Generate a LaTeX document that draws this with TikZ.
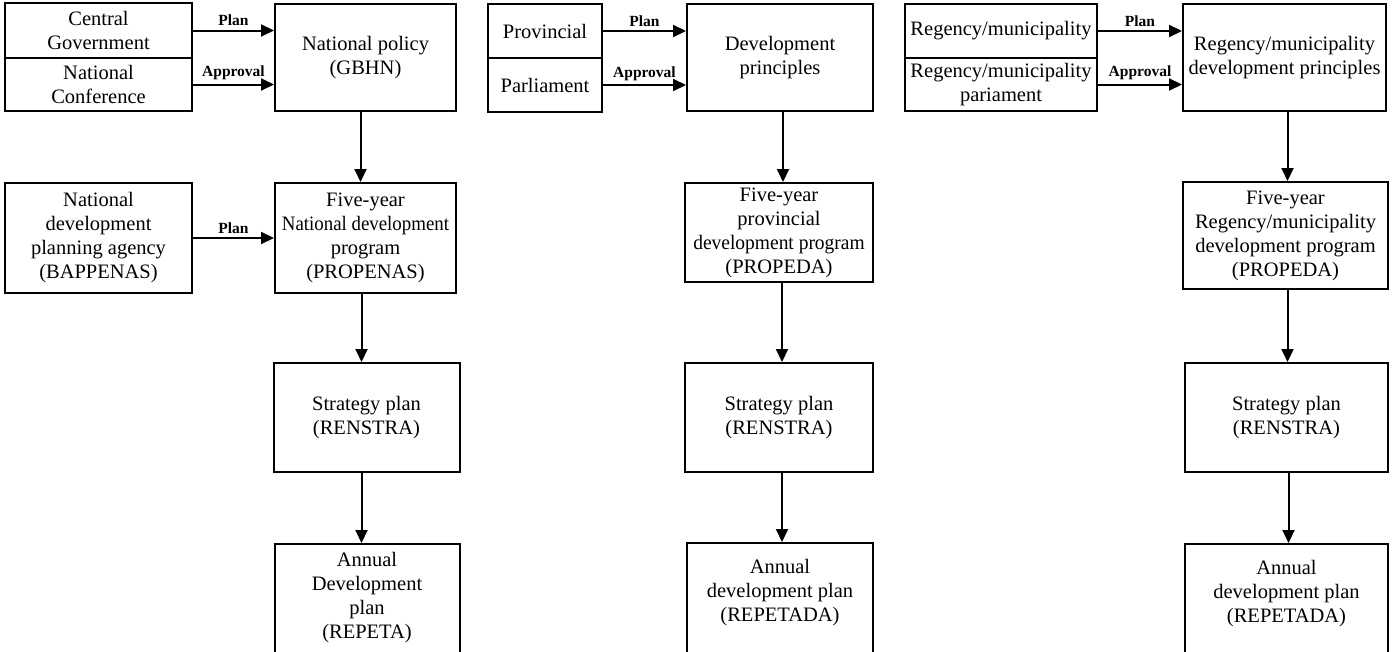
\documentclass[tikz,border=0pt]{standalone}
\usepackage{fontspec}
\usepackage{graphicx}
\setmainfont{Liberation Serif}
\usetikzlibrary{arrows.meta,calc}
\newcommand{\cnd}[2]{\scalebox{#1}[1]{#2}}
\begin{document}
\begin{tikzpicture}[x=1pt,y=-1pt,
  box/.style={draw, line width=2pt, inner sep=0pt, align=center,
    font=\fontsize{20.5}{24}\selectfont},
  txt/.style={inner sep=0pt, align=center, font=\fontsize{20.5}{24}\selectfont},
  lbl/.style={font=\fontsize{15.5}{18}\selectfont\bfseries, inner sep=3.5pt},
  arr/.style={line width=2pt, -{Triangle[length=13pt,width=12pt]}}]
\useasboundingbox (0,0) rectangle (1399,651);
\clip (0,0) rectangle (1399,651);
% ---------- Panel 1 ----------
\node[box, minimum width=187, minimum height=55] (cg) at (98.5,30.5) {Central\\Government};
\node[box, minimum width=187, minimum height=53] (nc) at (98.5,84.5) {National\\Conference};
\node[box, minimum width=181, minimum height=107] (np) at (365.5,57.5) {National policy\\(GBHN)};
\node[box, minimum width=187, minimum height=110] (bap) at (98.5,238) {National\\development\\planning agency\\(BAPPENAS)};
\node[box, minimum width=181, minimum height=110] (fy1) at (365.5,238) {Five-year\\\cnd{0.92}{National development}\\program\\(PROPENAS)};
\node[box, minimum width=186, minimum height=109] (st1) at (366.5,417.5) {Strategy plan\\(RENSTRA)};
\node[box, minimum width=185, minimum height=140] (an1) at (367,614) {};
\node[txt] (an1t) at (367,598) {Annual\\Development\\plan\\(REPETA)};
\draw[arr] (cg.east) -- node[lbl, above] (l1) {Plan} (cg.east -| np.west);
\draw[arr] (nc.east) -- node[lbl, above] (l2) {Approval} (nc.east -| np.west);
\draw[arr] (bap.east) -- node[lbl, above] (l3) {Plan} (bap.east -| fy1.west);
\draw[arr] ([xshift=-5pt]np.south) -- ([xshift=-5pt]np.south |- fy1.north);
\draw[arr] ([xshift=-4pt]fy1.south) -- ([xshift=-4pt]fy1.south |- st1.north);
\draw[arr] ([xshift=-5pt]st1.south) -- ([xshift=-5pt]st1.south |- an1.north);
% ---------- Panel 2 ----------
\node[box, minimum width=114, minimum height=54] (prov) at (545,31) {Provincial};
\node[box, minimum width=114, minimum height=54] (parl) at (545,85) {Parliament};
\node[box, minimum width=186, minimum height=107] (dp2) at (780,57.5) {Development\\principles};
\node[box, minimum width=188, minimum height=99] (fy2) at (779,232.5) {Five-year\\provincial\\\cnd{0.95}{development program}\\(PROPEDA)};
\node[box, minimum width=188, minimum height=109] (st2) at (779,417.5) {Strategy plan\\(RENSTRA)};
\node[box, minimum width=186, minimum height=140] (an2) at (780,613) {};
\node[txt] (an2t) at (780,593) {Annual\\development plan\\(REPETADA)};
\draw[arr] (prov.east) -- node[lbl, above] (l4) {Plan} (prov.east -| dp2.west);
\draw[arr] (parl.east) -- node[lbl, above] (l5) {Approval} (parl.east -| dp2.west);
\draw[arr] ([xshift=3pt]dp2.south) -- ([xshift=3pt]dp2.south |- fy2.north);
\draw[arr] ([xshift=3pt]fy2.south) -- ([xshift=3pt]fy2.south |- st2.north);
\draw[arr] ([xshift=3pt]st2.south) -- ([xshift=3pt]st2.south |- an2.north);
% ---------- Panel 3 ----------
\node[box, minimum width=192, minimum height=54] (reg) at (1001,31) {Regency/municipality};
\node[box, minimum width=192, minimum height=53] (regp) at (1001,84.5) {Regency/municipality\\pariament};
\node[box, minimum width=203, minimum height=107] (dp3) at (1284.5,57.5) {Regency/municipality\\development principles};
\node[box, minimum width=205, minimum height=107] (fy3) at (1285.5,235.5) {Five-year\\Regency/municipality\\development program\\(PROPEDA)};
\node[box, minimum width=203, minimum height=109] (st3) at (1286.5,417.5) {Strategy plan\\(RENSTRA)};
\node[box, minimum width=203, minimum height=140] (an3) at (1286.5,614) {};
\node[txt] (an3t) at (1286.5,594) {Annual\\development plan\\(REPETADA)};
\draw[arr] (reg.east) -- node[lbl, above] (l6) {Plan} (reg.east -| dp3.west);
\draw[arr] (regp.east) -- node[lbl, above] (l7) {Approval} (regp.east -| dp3.west);
\draw[arr] ([xshift=3pt]dp3.south) -- ([xshift=3pt]dp3.south |- fy3.north);
\draw[arr] ([xshift=2pt]fy3.south) -- ([xshift=2pt]fy3.south |- st3.north);
\draw[arr] ([xshift=2pt]st3.south) -- ([xshift=2pt]st3.south |- an3.north);
\end{tikzpicture}
\end{document}
